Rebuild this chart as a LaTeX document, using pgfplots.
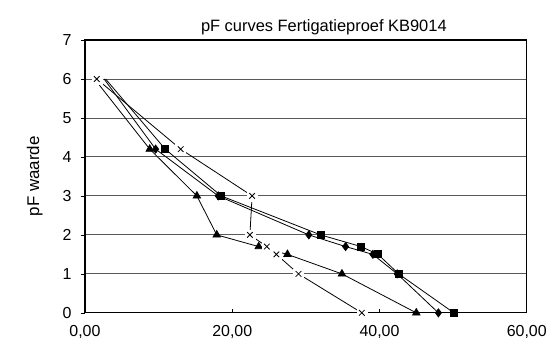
\documentclass[border=0pt]{standalone}
\usepackage{fontspec}
\setmainfont{Liberation Sans}
\usepackage{pgfplots}
\pgfplotsset{compat=1.18}
\begin{document}
\begin{tikzpicture}[x=1bp,y=1bp]
\begin{axis}[
  scale only axis,
  width=442bp, height=273bp,
  xmin=0, xmax=60, ymin=0, ymax=7,
  xtick={0,20,40,60}, ytick={0,1,...,7},
  ymajorgrids, major grid style={draw=black!65, line width=0.9pt},
  axis line style={black, line width=1.2pt},
  tick align=outside,
  x tick style={black, line width=0.7pt, yshift=4bp},
  y tick style={black, line width=0.7pt},
  major tick length=4bp,
  xtick pos=bottom, ytick pos=left,
  /pgf/number format/assume math mode=true,
  xticklabel style={/pgf/number format/fixed, /pgf/number format/fixed zerofill, /pgf/number format/precision=2, /pgf/number format/use comma, yshift=-5bp},
  tick label style={font=\fontsize{16}{18}\selectfont},
  yticklabel style={xshift=-6bp},
  title={pF curves Fertigatieproef KB9014},
  title style={font=\fontsize{16.5}{19}\selectfont, xshift=18bp, yshift=-4bp},
  ylabel={pF waarde},
  ylabel style={font=\fontsize{17}{19}\selectfont, yshift=13bp},
  clip=false,
]
% diamonds
\addplot[black, line width=0.8pt, mark=diamond*, mark size=4bp, mark indices={2,3,4,5,6,7,8}] coordinates {
 (2.6,6) (9.6,4.2) (18.1,3) (30.4,2) (35.4,1.7) (39.1,1.5) (42.4,1) (48.0,0)};
% squares
\addplot[black, line width=0.8pt, mark=square*, mark size=3.5bp, mark indices={2,3,4,5,6,7,8}] coordinates {
 (2.8,6) (10.9,4.2) (18.5,3) (32.0,2) (37.5,1.7) (39.8,1.5) (42.6,1) (50.1,0)};
% triangles
\addplot[black, line width=0.8pt, mark=triangle*, mark size=4.3bp, mark indices={2,3,4,5,6,7,8,9}] coordinates {
 (1.3,6) (8.8,4.2) (15.2,3) (17.9,2) (23.6,1.7) (27.5,1.5) (34.9,1) (45.0,0)};
% crosses
\addplot[black, line width=0.8pt, forget plot] coordinates {
 (1.6,6) (13.0,4.2) (22.7,3) (22.4,2) (24.7,1.7) (26.0,1.5) (29.0,1) (37.6,0)};
\addplot[only marks, white, mark=square*, mark size=5bp, mark options={fill=white, draw=white}, forget plot] coordinates {
 (1.6,6) (13.0,4.2) (22.7,3) (22.4,2) (24.7,1.7) (26.0,1.5) (29.0,1) (37.6,0)};
\addplot[only marks, black, mark=x, mark size=4bp, mark options={line width=0.8pt}] coordinates {
 (1.6,6) (13.0,4.2) (22.7,3) (22.4,2) (24.7,1.7) (26.0,1.5) (29.0,1) (37.6,0)};
\end{axis}
\path (current axis.south west) ++(-85bp,-37bp) rectangle ++(550bp,350bp);
\end{tikzpicture}
\end{document}
